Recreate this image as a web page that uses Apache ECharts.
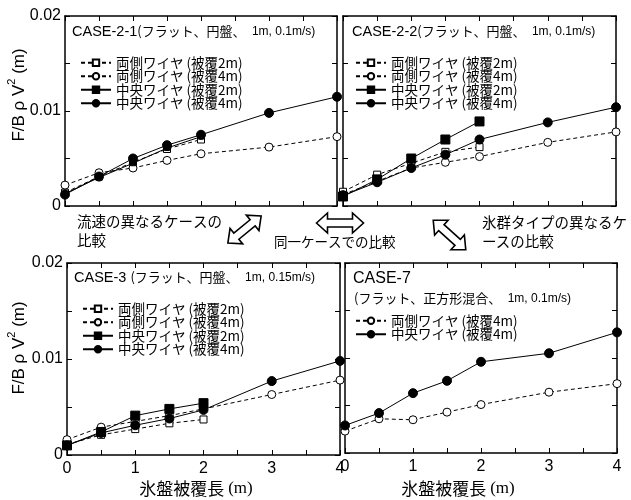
<!DOCTYPE html>
<html>
<head>
<meta charset="utf-8">
<script src="https://cdn.jsdelivr.net/npm/echarts@6/dist/echarts.min.js"></script>
<style>
  html, body { margin: 0; padding: 0; background: #fff; }
  #chart { width: 631px; height: 500px; }
</style>
</head>
<body>
<div id="chart"></div>
<script>
// Ice-cover length (m) sampled for each configuration
const xsShort = [0, 0.5, 1, 1.5, 2];
const xsLong = [0, 0.5, 1, 1.5, 2, 3, 4];

// Normalised force F/BρV² (m)
// CASE-2-1
const c21SideCover2 = [0.0014, 0.0031, 0.0046, 0.0060, 0.0070];
const c21SideCover4 = [0.0022, 0.0035, 0.0040, 0.0048, 0.0055, 0.0062, 0.0073];
const c21CenterCover2 = [0.0013, 0.0030, 0.0045, 0.0061, 0.0073];
const c21CenterCover4 = [0.0012, 0.0031, 0.0050, 0.0064, 0.0075, 0.0098, 0.0115];
// CASE-2-2
const c22SideCover2 = [0.0015, 0.0033, 0.0045, 0.0057, 0.0062];
const c22SideCover4 = [0.0012, 0.0026, 0.0040, 0.0046, 0.0052, 0.0067, 0.0078];
const c22CenterCover2 = [0.0010, 0.0028, 0.0050, 0.0070, 0.0089];
const c22CenterCover4 = [0.0011, 0.0025, 0.0040, 0.0054, 0.0070, 0.0088, 0.0104];
// CASE-3
const c3SideCover2 = [0.0011, 0.0021, 0.0027, 0.0033, 0.0037];
const c3SideCover4 = [0.0016, 0.0029, 0.0035, 0.0041, 0.0048, 0.0063, 0.0078];
const c3CenterCover2 = [0.0010, 0.0024, 0.0041, 0.0048, 0.0054];
const c3CenterCover4 = [0.0010, 0.0023, 0.0031, 0.0038, 0.0047, 0.0077, 0.0098];
// CASE-7
const c7SideCover4 = [0.0023, 0.0036, 0.0035, 0.0043, 0.0051, 0.0064, 0.0073];
const c7CenterCover4 = [0.0029, 0.0042, 0.0063, 0.0076, 0.0096, 0.0105, 0.0127];

// Legend labels
const nameSide2 = '両側ワイヤ (被覆2m)';
const nameSide4 = '両側ワイヤ (被覆4m)';
const nameCenter2 = '中央ワイヤ (被覆2m)';
const nameCenter4 = '中央ワイヤ (被覆4m)';

// Axis tick labels
const xTickLabels = ['0', '1', '2', '3', '4'];
const yTickLabels = ['0', '0.01', '0.02'];

const LATIN = 'Liberation Sans';
const JP = '"Noto Sans CJK JP", sans-serif';

const chart = echarts.init(document.getElementById('chart'), null, { renderer: 'canvas' });

// panel layout
const panels = [
  { left: 65, top: 16, width: 272, height: 190, xLabels: false, yLabels: true },
  { left: 343, top: 16, width: 273, height: 190, xLabels: false, yLabels: false },
  { left: 67, top: 263, width: 273, height: 192, xLabels: true, yLabels: true },
  { left: 345, top: 263, width: 272, height: 190, xLabels: true, yLabels: false }
];

const axisLineStyle = { color: '#000', width: 1.5 };
const tickStyle = { show: true, inside: true, length: 5, lineStyle: { color: '#000', width: 1 } };

function xLabelFmt(v) {
  const idx = xTickLabels.indexOf(String(v));
  return idx >= 0 ? xTickLabels[idx] : '';
}
function yLabelFmt(v) {
  for (const t of yTickLabels) {
    if (Math.abs(Number(t) - v) < 1e-9) return t;
  }
  return '';
}

const grids = [], xAxes = [], yAxes = [];
panels.forEach((p, i) => {
  grids.push({ left: p.left, top: p.top, width: p.width, height: p.height, containLabel: false });
  ['bottom', 'top'].forEach(pos => {
    xAxes.push({
      gridIndex: i, type: 'value', position: pos, min: 0, max: 4, interval: 0.5,
      axisLine: { show: true, onZero: false, lineStyle: axisLineStyle },
      axisTick: tickStyle,
      splitLine: { show: false },
      axisLabel: {
        show: pos === 'bottom' && p.xLabels, formatter: xLabelFmt, margin: 6,
        color: '#000', fontFamily: LATIN, fontSize: 16
      }
    });
  });
  ['left', 'right'].forEach(pos => {
    yAxes.push({
      gridIndex: i, type: 'value', position: pos, min: 0, max: 0.02, interval: 0.005,
      axisLine: { show: true, onZero: false, lineStyle: axisLineStyle },
      axisTick: tickStyle,
      splitLine: { show: false },
      axisLabel: {
        show: pos === 'left' && p.yLabels, formatter: yLabelFmt, margin: 4,
        color: '#000', fontFamily: LATIN, fontSize: 16
      }
    });
  });
});

function pairs(xs, ys) { return xs.map((x, i) => [x, ys[i]]); }

const markerKinds = {
  openSquare: { symbol: 'rect', symbolSize: 7, dashed: true, fill: '#fff' },
  openCircle: { symbol: 'circle', symbolSize: 8, dashed: true, fill: '#fff' },
  smallSquare: { symbol: 'rect', symbolSize: 5, dashed: false, fill: '#000' },
  bigSquare: { symbol: 'rect', symbolSize: 9, dashed: false, fill: '#000' },
  dot: { symbol: 'circle', symbolSize: 9, dashed: false, fill: '#000' }
};

function makeSeries(tag, panel, label, xs, ys, kind) {
  const m = markerKinds[kind];
  return {
    type: 'line', name: tag + ':' + label,
    xAxisIndex: panel * 2, yAxisIndex: panel * 2,
    data: pairs(xs, ys), z: 3,
    symbol: m.symbol,
    symbolSize: m.symbolSize,
    showAllSymbol: true,
    lineStyle: { color: '#000', width: 1, type: m.dashed ? [4, 3] : 'solid' },
    itemStyle: { color: m.fill, borderColor: '#000', borderWidth: 1, opacity: 1 },
    emphasis: { disabled: true }
  };
}

const series = [
  makeSeries('c21', 0, nameSide2, xsShort, c21SideCover2, 'openSquare'),
  makeSeries('c21', 0, nameSide4, xsLong, c21SideCover4, 'openCircle'),
  makeSeries('c21', 0, nameCenter2, xsShort, c21CenterCover2, 'smallSquare'),
  makeSeries('c21', 0, nameCenter4, xsLong, c21CenterCover4, 'dot'),
  makeSeries('c22', 1, nameSide2, xsShort, c22SideCover2, 'openSquare'),
  makeSeries('c22', 1, nameSide4, xsLong, c22SideCover4, 'openCircle'),
  makeSeries('c22', 1, nameCenter2, xsShort, c22CenterCover2, 'bigSquare'),
  makeSeries('c22', 1, nameCenter4, xsLong, c22CenterCover4, 'dot'),
  makeSeries('c3', 2, nameSide2, xsShort, c3SideCover2, 'openSquare'),
  makeSeries('c3', 2, nameSide4, xsLong, c3SideCover4, 'openCircle'),
  makeSeries('c3', 2, nameCenter2, xsShort, c3CenterCover2, 'bigSquare'),
  makeSeries('c3', 2, nameCenter4, xsLong, c3CenterCover4, 'dot'),
  makeSeries('c7', 3, nameSide4, xsLong, c7SideCover4, 'openCircle'),
  makeSeries('c7', 3, nameCenter4, xsLong, c7CenterCover4, 'dot')
];

function legendFor(tag, left, top) {
  return {
    show: true, orient: 'vertical', left: left, top: top,
    data: series.filter(s => s.name.startsWith(tag + ':')).map(s => s.name),
    formatter: n => n.split(':')[1],
    itemWidth: 30, itemHeight: 8, itemGap: 0, padding: 0,
    selectedMode: false,
    textStyle: { color: '#000', fontFamily: JP, fontSize: 13.5, fontWeight: 'normal', lineHeight: 13 }
  };
}

const legends = [
  legendFor('c21', 80, 56),
  legendFor('c22', 355, 56),
  legendFor('c3', 82, 302),
  legendFor('c7', 355, 314)
];

const titleRich = {
  a: { fontFamily: LATIN, fontSize: 14.5, fontWeight: 'normal', color: '#000' },
  k: { fontFamily: LATIN, fontSize: 16, fontWeight: 'normal', color: '#000' },
  b: { fontFamily: JP, fontSize: 13, fontWeight: 'normal', color: '#000' },
  c: { fontFamily: LATIN, fontSize: 12, fontWeight: 'normal', color: '#000' }
};

const titles = [
  { text: '{a|CASE-2-1}{b|(フラット、円盤、　}{c|1m, 0.1m/s)}', left: 72, top: 24 },
  { text: '{a|CASE-2-2}{b|(フラット、円盤、　}{c|1m, 0.1m/s)}', left: 352, top: 24 },
  { text: '{a|CASE-3 }{b|(フラット、円盤、　}{c|1m, 0.15m/s)}', left: 74, top: 270 },
  { text: '{k|CASE-7}', left: 353, top: 271 },
  { text: '{b|(フラット、正方形混合、　}{c|1m, 0.1m/s)}', left: 354, top: 292 }
].map(t => ({
  text: t.text, left: t.left, top: t.top, padding: 0,
  textStyle: { fontWeight: 'normal', rich: titleRich }
}));

// Hollow double-headed arrow outline
function arrowPoints(len, shaft, head, headLen) {
  const a = len / 2;
  return [
    [-a, 0], [-a + headLen, -head], [-a + headLen, -shaft], [a - headLen, -shaft],
    [a - headLen, -head], [a, 0], [a - headLen, head], [a - headLen, shaft],
    [-a + headLen, shaft], [-a + headLen, head]
  ];
}
function arrow(cx, cy, len, rot) {
  return {
    type: 'polygon', x: cx, y: cy, rotation: rot,
    shape: { points: arrowPoints(len, 4, 10, 11) },
    style: { fill: '#fff', stroke: '#000', lineWidth: 1.6, lineJoin: 'miter' },
    z: 10
  };
}

function plainText(x, y, text, size) {
  return {
    type: 'text', x: x, y: y,
    style: { text: text, font: size + 'px ' + JP, fill: '#000', textAlign: 'left', textVerticalAlign: 'middle' },
    z: 10
  };
}

const yName = '{n|F/B ρ V}{s|2}{n| (m)}';
const yNameRich = {
  n: { fontFamily: LATIN, fontSize: 17, color: '#000', lineHeight: 22, verticalAlign: 'bottom' },
  s: { fontFamily: LATIN, fontSize: 11, color: '#000', lineHeight: 22, verticalAlign: 'top' }
};
function yNameText(cx, cy) {
  return {
    type: 'text', x: cx, y: cy, rotation: Math.PI / 2,
    style: { text: yName, rich: yNameRich, textAlign: 'center', textVerticalAlign: 'middle' },
    z: 10
  };
}
function xNameText(cx, cy) {
  return {
    type: 'text', x: cx, y: cy,
    style: {
      text: '{a|氷盤被覆長 }{b|(m)}', textAlign: 'center', textVerticalAlign: 'middle',
      rich: {
        a: { fontFamily: JP, fontSize: 17, color: '#000' },
        b: { fontFamily: '"Liberation Serif", serif', fontSize: 17, color: '#000' }
      }
    },
    z: 10
  };
}

const graphics = [
  yNameText(17, 95),
  yNameText(17, 348),
  xNameText(196, 489),
  xNameText(458, 489),
  plainText(77, 221, '流速の異なるケースの', 14.5),
  plainText(77, 240, '比較', 14.5),
  plainText(274, 242, '同一ケースでの比較', 13.5),
  plainText(482, 222, '氷群タイプの異なるケ', 14.5),
  plainText(482, 241, 'ースの比較', 14.5),
  arrow(244.5, 229.5, 43, Math.atan2(27, 33)),
  arrow(340, 223, 47, 0),
  arrow(449.5, 235, 44, -Math.atan2(30, 33))
];

chart.setOption({
  backgroundColor: '#fff',
  animation: false,
  title: titles,
  grid: grids,
  xAxis: xAxes,
  yAxis: yAxes,
  legend: legends,
  series: series,
  graphic: graphics
});
</script>
</body>
</html>
